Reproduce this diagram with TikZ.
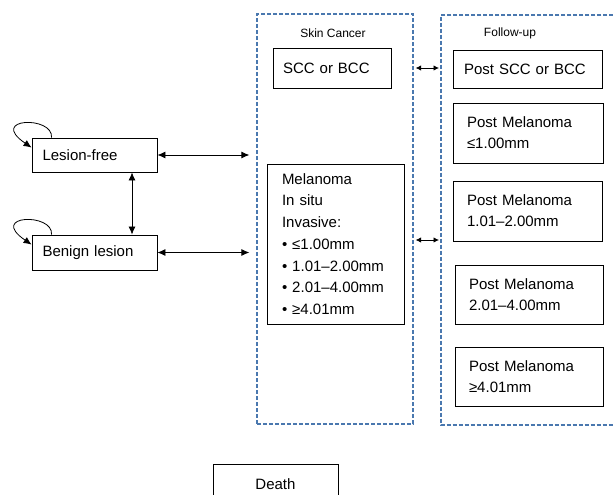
\documentclass[tikz,border=0pt]{standalone}
\usepackage{fontspec}
\setmainfont{Liberation Sans}
\usetikzlibrary{arrows.meta,calc}
\definecolor{dashblue}{RGB}{74,120,175}
\begin{document}
\begin{tikzpicture}[x=1pt,y=-1pt,
 box/.style={draw=black, line width=0.9pt, rectangle, font=\fontsize{15}{21}\selectfont, align=left, inner ysep=0pt},
 grpline/.style={draw=dashblue, line width=1.3pt, dash pattern=on 4pt off 2pt},
 grp/.style={grpline, rectangle, inner sep=0pt},
 lab/.style={font=\fontsize{12}{14}\selectfont, inner sep=0pt},
 conn/.style={line width=0.8pt, {Latex[length=8pt,width=7pt]}-{Latex[length=8pt,width=7pt]}},
 sconn/.style={line width=0.8pt, {Latex[length=5.5pt,width=5.5pt]}-{Latex[length=5.5pt,width=5.5pt]}, shorten <=2pt, shorten >=2pt},
 selfloop/.style={line width=0.8pt, -{Latex[length=8pt,width=7pt]}}
]
\useasboundingbox (0,0) rectangle (613,495);

% groups
\node[grp, minimum width=156pt, minimum height=410pt] (skin) at (335,219) {};
\node[rectangle, inner sep=0pt, minimum width=172pt, minimum height=409.5pt, anchor=north west] (fu) at (441,15) {};
\draw[grpline] (fu.north east) -- (fu.north west) -- (fu.south west) -- (fu.south east);
\node[lab] (skinlab) at (333,33) {Skin Cancer};
\node[lab] (fulab) at (510,33) {Follow-up};

% left states
\node[box, text width=104pt, inner xsep=10.5pt, minimum height=34pt] (lf) at (94.5,155) {Lesion-free};
\node[box, text width=104pt, inner xsep=10.5pt, minimum height=35pt] (bl) at (94.5,252.5) {Benign lesion};

% skin cancer
\node[box, text width=98pt, inner xsep=10pt, minimum height=40pt] (scc) at (332,68) {SCC or BCC};
\node[box, text width=107pt, inner xsep=15pt, minimum height=160pt, font=\fontsize{15}{21.7}\selectfont] (mel) at (335.5,244)
 {Melanoma\\In situ\\Invasive:\\• ≤1.00mm\\• 1.01–2.00mm\\• 2.01–4.00mm\\• ≥4.01mm};

% follow-up
\node[box, text width=127pt, inner xsep=11pt, minimum height=38pt] (pscc) at (527.5,69) {Post SCC or BCC};
\node[box, text width=122pt, inner xsep=14pt, minimum height=60pt] (pm1) at (528,133) {Post Melanoma\\≤1.00mm};
\node[box, text width=121pt, inner xsep=14pt, minimum height=60pt] (pm2) at (527.5,211) {Post Melanoma\\1.01–2.00mm};
\node[box, text width=120pt, inner xsep=14pt, minimum height=59pt] (pm3) at (529,294.5) {Post Melanoma\\2.01–4.00mm};
\node[box, text width=120pt, inner xsep=14pt, minimum height=59pt] (pm4) at (529,376.5) {Post Melanoma\\≥4.01mm};

% death
\node[box, text width=125pt, inner xsep=0pt, align=center, minimum height=40pt] (death) at (275.5,484) {Death};

% connectors
\draw[conn, shorten >=7pt] (lf.east) -- (lf.east -| skin.west);
\draw[conn, shorten >=7pt] (bl.east) -- (bl.east -| skin.west);
\draw[conn] ($(lf.south)+(37.5,0)$) -- ($(bl.north)+(37.5,0)$);
\draw[sconn] (skin.east |- scc) -- (fu.west |- scc);
\draw[sconn] ($(skin.east |- mel)+(0,-4)$) -- ($(fu.west |- mel)+(0,-4)$);

% self loops
\draw[selfloop] ($(lf.north west)+(20,0)$) .. controls ($(lf.north west)+(22,-22)$) and ($(lf.north west)+(-44,-20)$) .. ($(lf.north west)+(0,10)$);
\draw[selfloop] ($(bl.north west)+(20,0)$) .. controls ($(bl.north west)+(22,-22)$) and ($(bl.north west)+(-44,-20)$) .. ($(bl.north west)+(0,10)$);
\end{tikzpicture}
\end{document}
